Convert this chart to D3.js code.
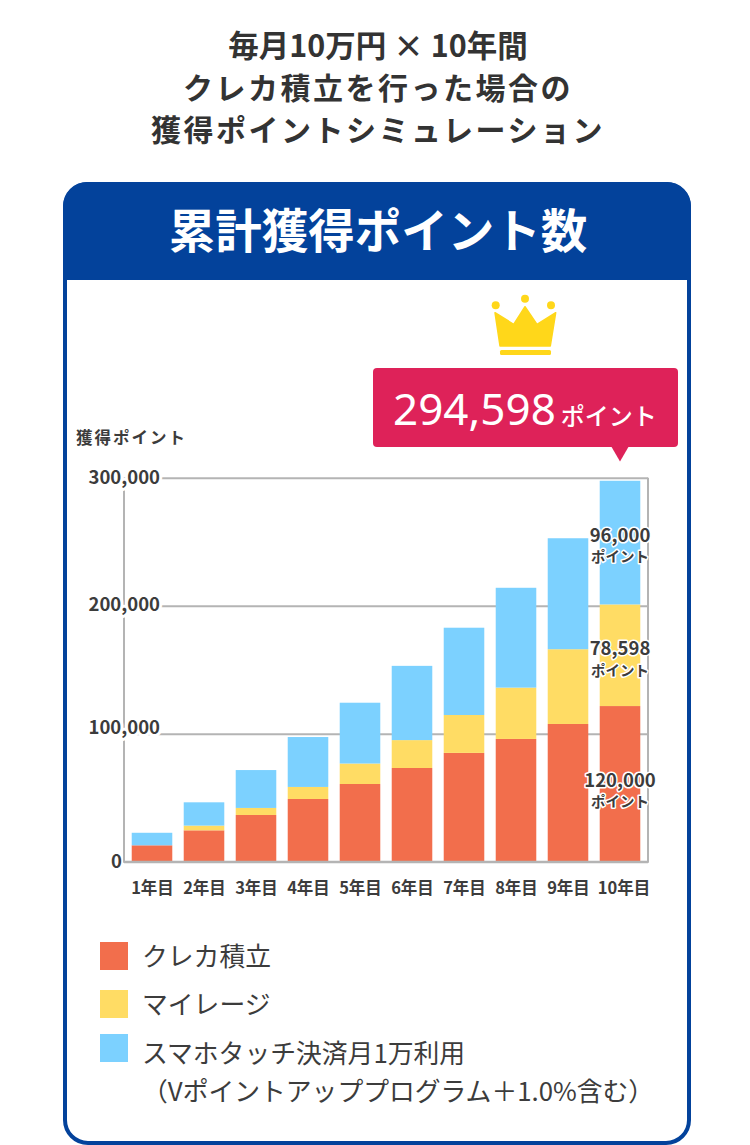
<!DOCTYPE html>
<html lang="ja"><head><meta charset="utf-8">
<script src="https://cdn.jsdelivr.net/npm/d3@7/dist/d3.min.js"></script>
<style>html,body{margin:0;padding:0;background:#fff}svg{display:block}
text{font-family:"Noto Sans CJK JP","Noto Sans",sans-serif;fill:#3c3c3c}</style></head>
<body><div id="c"></div>
<script>
const titleLines = ["毎月10万円 × 10年間","クレカ積立を行った場合の","獲得ポイントシミュレーション"];
const headerText = "累計獲得ポイント数";
const years = ["1年目","2年目","3年目","4年目","5年目","6年目","7年目","8年目","9年目","10年目"];
const creditValues = [12800,24500,36500,49000,60700,73200,85000,95900,107600,121600];
const mileageValues = [0,3700,5500,9400,16000,21800,29600,40100,58400,79400];
const touchValues = [9800,18200,29600,39000,47500,58000,68200,78000,86700,96600];
const yTicks = [0,100000,200000,300000];
const seriesKeys = ["credit","mileage","touch"];
const seriesColors = ["#f26e4c","#ffdc64","#7cd1ff"];
const legendLabels = [["クレカ積立"],["マイレージ"],["スマホタッチ決済月1万利用","（Vポイントアッププログラム＋1.0%含む）"]];
const totalLabel = "294,598";
const unitLabel = "ポイント";
const lastBarLabels = ["120,000","78,598","96,000"];

const svg = d3.select("#c").append("svg").attr("width",750).attr("height",1145);
const navy = "#03429b", grid = "#b4b4b4";

// title
svg.selectAll(".t").data(titleLines).join("text").attr("class","t")
  .attr("x",378).attr("y",(d,i)=>46+i*42).attr("dy","0.36em").attr("text-anchor","middle")
  .attr("font-size",(d,i)=>i==0?30.5:30).attr("font-weight",700).attr("letter-spacing",(d,i)=>i==0?0:2.5)
  .style("fill","#333").text(d=>d);

// card
svg.append("rect").attr("x",65).attr("y",184).attr("width",624).attr("height",959).attr("rx",23)
  .attr("fill","#fff").attr("stroke",navy).attr("stroke-width",4);
svg.append("path").attr("fill",navy)
  .attr("d","M63,280V206a24,24 0 0 1 24,-24H667a24,24 0 0 1 24,24V280Z");
svg.append("text").attr("x",378).attr("y",231).attr("dy","0.36em").attr("text-anchor","middle")
  .attr("font-size",46.5).attr("font-weight",700).style("fill","#fff").text(headerText);

// scales
const x = d3.scaleBand().domain(years).range([126,646]).paddingInner(0.22).paddingOuter(0.11);
const y = d3.scaleLinear().domain([0,300000]).range([861.7,477.7]);
const rows = years.map((yr,i)=>({yr,credit:creditValues[i],mileage:mileageValues[i],touch:touchValues[i]}));
const stacked = d3.stack().keys(seriesKeys)(rows);

// frame and grid
const gAxis = svg.append("g").attr("transform","translate(124,0)")
  .call(d3.axisLeft(y).tickValues(yTicks).tickSize(-524).tickPadding(0)
    .tickFormat(d3.format(",")));
gAxis.select(".domain").attr("stroke",grid).attr("stroke-width",2).attr("d","M0,477.7V861.7");
gAxis.selectAll(".tick line").attr("stroke",grid).attr("stroke-width",2);
svg.append("line").attr("x1",648).attr("x2",648).attr("y1",y(300000)).attr("y2",y(0))
  .attr("stroke",grid).attr("stroke-width",2);
gAxis.selectAll(".tick text")
  .attr("x",d=>d==0?-2:36).attr("dy",d=>d==100000?"-0.02em":d==200000?"0.28em":"0.33em")
  .attr("text-anchor","end").attr("font-size",18.5).attr("font-weight",700)
  .attr("font-family",'"Noto Sans CJK JP"')
  .style("fill","#3c3c3c").style("stroke-linejoin","round").style("paint-order","stroke").style("stroke","#fff").style("stroke-width",d=>d==0?0:6);

// y title
svg.append("text").attr("x",76).attr("y",438).attr("dy","0.36em").attr("font-size",16.5).attr("font-weight",700)
  .attr("letter-spacing",2).text("獲得ポイント");

// bars
svg.selectAll(".s").data(stacked).join("g").attr("class","s").attr("fill",(d,i)=>seriesColors[i])
  .selectAll("rect").data(d=>d.filter(p=>p[1]>p[0])).join("rect")
  .attr("x",d=>x(d.data.yr)).attr("width",x.bandwidth())
  .attr("y",d=>y(d[1])).attr("height",d=>y(d[0])-y(d[1]));

// x labels
const gx = svg.append("g").attr("transform","translate(0,861.7)")
  .call(d3.axisBottom(x).tickSize(0).tickPadding(0));
gx.select(".domain").attr("stroke",grid).attr("stroke-width",2).attr("d","M123,0H649");
gx.selectAll("text").attr("x",d=>d===years[9]?4:0.5).attr("y",26).attr("dy","0.36em").attr("font-size",16.5).attr("font-weight",700)
  .attr("font-family",'"Noto Sans CJK JP"').style("fill","#3c3c3c");

// last-bar labels
const cx = x(years[9]) + x.bandwidth()/2;
const labelY = [[780,802],[648,671],[535,557]];
const halo = s=>s.style("paint-order","stroke").style("stroke","#fff").style("stroke-width",3).style("stroke-linejoin","round");
lastBarLabels.forEach((t,i)=>{
  svg.append("text").attr("x",cx).attr("y",labelY[i][0]).attr("dy","0.36em").attr("text-anchor","middle")
    .attr("font-size",18.5).attr("font-weight",700).text(t).call(halo);
  svg.append("text").attr("x",cx).attr("y",labelY[i][1]).attr("dy","0.36em").attr("text-anchor","middle")
    .attr("font-size",14.5).attr("font-weight",700).text(unitLabel).call(halo);
});

// callout
svg.append("rect").attr("x",373).attr("y",368).attr("width",305).attr("height",79).attr("rx",4).attr("fill","#de2259");
svg.append("path").attr("fill","#de2259").attr("d",`M${cx-9},446L${cx},461.5L${cx+9},446Z`);
const call = svg.append("text").attr("x",393).attr("y",425).style("fill","#fff");
call.append("tspan").attr("font-size",44).attr("font-family",'"Noto Sans","Noto Sans CJK JP"').style("fill","#fff").text(totalLabel);
call.append("tspan").attr("dx",5).attr("font-size",24).attr("font-weight",500).style("fill","#fff").text(unitLabel);

// crown
const crown = svg.append("g").attr("fill","#ffd71a");
crown.append("path").attr("stroke","#ffd71a").attr("stroke-width",1.5).attr("stroke-linejoin","round")
  .attr("d","M495,312.7L513.7,324.3L525,306.7L537,324.3L555.7,312.7L550.3,346H500Z");
[[495.7,305.3,4],[525,298.7,4],[551,305.3,4]].forEach(c=>crown.append("circle").attr("cx",c[0]).attr("cy",c[1]).attr("r",c[2]));
crown.append("rect").attr("x",500).attr("y",350).attr("width",51).attr("height",5).attr("rx",1.5);

// legend
const legY = [956,1004,1048];
legendLabels.forEach((lines,i)=>{
  svg.append("rect").attr("x",100).attr("y",legY[i]-14).attr("width",28).attr("height",28).attr("fill",seriesColors[i]);
  lines.forEach((t,j)=>svg.append("text").attr("x",142).attr("y",legY[i]+1+(i==2?5:0)+j*38)
    .attr("dy","0.36em").attr("font-size",25.8).attr("font-weight",400).text(t));
});
</script></body></html>
